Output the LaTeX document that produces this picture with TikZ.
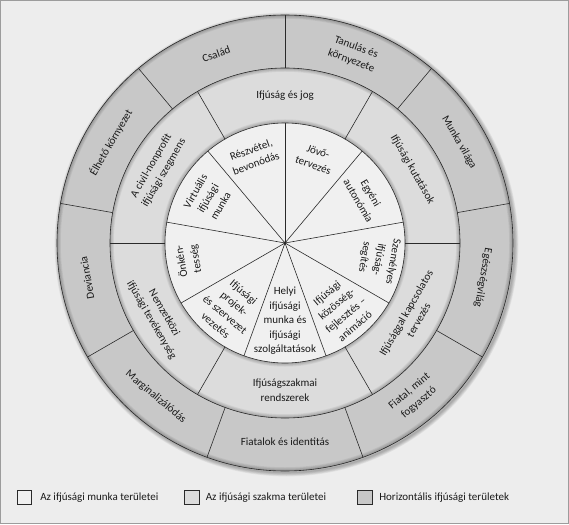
\documentclass[tikz,border=0pt]{standalone}
\usepackage{fontspec}
\setmainfont{Carlito}
\definecolor{bgcol}{HTML}{EDEDED}
\definecolor{outercol}{HTML}{C8C8C8}
\definecolor{midcol}{HTML}{DCDCDC}
\definecolor{innercol}{HTML}{F0F0F0}
\definecolor{framecol}{HTML}{9C9C9C}
\definecolor{linecol}{HTML}{2A2A2A}

\begin{document}
\begin{tikzpicture}[x=1pt,y=1pt,
  every node/.style={font=\fontsize{11}{14.5}\selectfont, align=center, inner sep=0pt, text=black!90},
  sep/.style={draw=linecol, line width=0.6pt},
  halo/.style={draw=black, opacity=0.05},
  keybox/.style={draw=linecol, fill=#1, line width=0.6pt, minimum size=14.5pt, anchor=west},
  keytext/.style={anchor=west}]

\fill[bgcol] (-285,-281) rectangle (284,243);
\draw[framecol, line width=1.3pt] (-284.3,-280.3) rectangle (283.3,242.3);
\useasboundingbox (-285,-281) rectangle (284,243);

% shadows and rings
\foreach \k in {1,...,6}
  \draw[halo, line width=\k*1.3pt] (1.5,-1.5) circle (228);
\fill[outercol] (0,0) circle (228);
\begin{scope}
  \clip (0,0) circle (228);
  \foreach \k in {1,...,5}
    \draw[halo, line width=\k*1.5pt] (0,0) circle (228);
\end{scope}
\fill[midcol] (0,0) circle (175);
\begin{scope}
  \clip (0,0) circle (175);
  \foreach \k in {1,...,5} {
    \draw[halo, line width=\k*1.5pt] (0,0) circle (175);
    \draw[halo, line width=\k*1.5pt] (0,0) circle (120);
  }
\end{scope}
\fill[innercol] (0,0) circle (120);
\draw[sep] (0,0) circle (228) circle (175) circle (120);

\foreach \a in {90,130,...,410} {
  \draw[sep] (\a:175) -- (\a:228);
  \draw[sep] (0,0) -- (\a:120);
}
\foreach \a in {0,60,...,300}
  \draw[sep] (\a:120) -- (\a:175);
\fill[linecol] (0,0) circle (1.6);

% inner ring
\node[rotate=20] (reszvetel) at (110:92) {Részvétel,\\bevonódás};
\node[rotate=-20] (jovo) at (70:90) {Jövő-\\tervezés};
\node[rotate=-60] (egyeni) at (30:92) {Egyéni\\autonómia};
\node[rotate=-100] (szemelyes) at (-10:95) {Személyes\\ifjúság-\\segítés};
\node[rotate=40] (kozosseg) at (-50:87) {Ifjúsági\\közösség-\\fejlesztés –\\animáció};
\node (helyi) at (-90:78) {Helyi\\ifjúsági\\munka és\\ifjúsági\\szolgáltatások};
\node[rotate=-40] (projekt) at (-130:86) {Ifjúsági\\projek-\\és szervezet\\vezetés};
\node[rotate=100] (onkentes) at (190:98) {Önkén-\\tesség};
\node[rotate=60] (virtualis) at (150:89) {Virtuális\\ifjúsági\\munka};

% middle ring
\node (jog) at (90:147) {Ifjúság és jog};
\node[rotate=-60] (kutatas) at (30:147) {Ifjúsági kutatások};
\node[rotate=60] (tervezes) at (-30:147) {Ifjúsággal kapcsolatos\\tervezés};
\node (rendszer) at (-90:147) {Ifjúságszakmai\\rendszerek};
\node[rotate=-60] (nemzetkozi) at (-150:147) {Nemzetközi\\ifjúsági tevékenység};
\node[rotate=60] (civil) at (150:147) {A civil-nonprofit\\ifjúsági szegmens};

% outer ring
\node[rotate=20] (csalad) at (110:201) {Család};
\node[rotate=-20] (tanulas) at (70:201) {Tanulás és\\környezete};
\node[rotate=-60] (munka) at (30:201) {Munka világa};
\node[rotate=-100] (egeszseg) at (-10:201) {Egészségvilág};
\node[rotate=40] (fogyaszto) at (-50:201) {Fiatal, mint\\fogyasztó};
\node (identitas) at (-90:199) {Fiatalok és identitás};
\node[rotate=-40] (margin) at (-130:201) {Marginalizálódás};
\node[rotate=100] (deviancia) at (190:201) {Deviancia};
\node[rotate=60] (elheto) at (150:201) {Élhető környezet};

% key
\node[keybox=innercol] (key1) at (-268,-254.5) {};
\node[keytext] (key1txt) at ([xshift=8pt]key1.east) {Az ifjúsági munka területei};
\node[keybox=midcol] (key2) at (-101,-254.5) {};
\node[keytext] (key2txt) at ([xshift=6.5pt]key2.east) {Az ifjúsági szakma területei};
\node[keybox=outercol] (key3) at (72,-254.5) {};
\node[keytext] (key3txt) at ([xshift=7pt]key3.east) {Horizontális ifjúsági területek};
\end{tikzpicture}
\end{document}
